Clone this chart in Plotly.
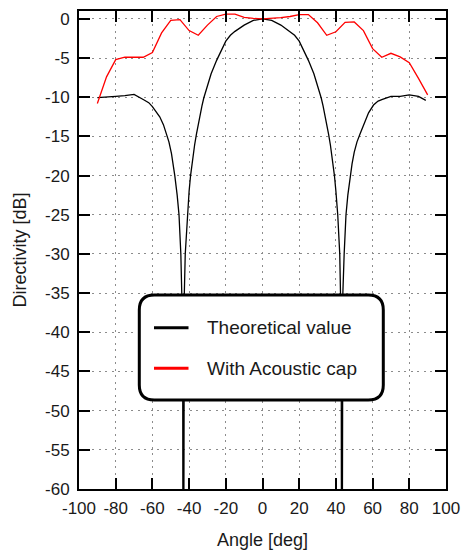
import plotly.graph_objects as go

# ---------------- data ----------------
red_angle = [-90, -85, -80, -75, -70, -65, -60, -55, -50, -45, -40, -35, -30, -25, -20, -15, -10, -5,
             0, 5, 10, 15, 20, 25, 30, 35, 40, 45, 50, 55, 60, 65, 70, 75, 80, 85, 90]
red_db = [-10.8, -7.4, -5.2, -4.9, -4.9, -4.9, -4.3, -1.8, -0.2, -0.1, -1.5, -2.1, -0.8, 0.3, 0.6, 0.6, 0.2, 0.05,
          0.0, 0.05, 0.15, 0.3, 0.55, 0.55, -0.5, -2.1, -1.65, -0.45, -0.4, -1.5, -3.8, -4.9, -4.4, -4.85, -5.6, -7.6, -9.7]

theo_angle = [-90, -85, -80, -75, -70, -65, -62, -60, -58, -56, -54, -52.3, -51, -49.6, -48.6, -47.8, -46.5,
              -45.5, -44.5, -43.8, -43.5,
              -43.2, -42.9, -42.6, -42.1, -41.0, -40.0, -39.2, -38.0, -37.0, -36.0, -35.0, -34.0, -33.0, -32.0,
              -30.0, -28.0, -25.0, -22.5, -20.0, -17.5, -15.0, -10.0, -5.0, 0.0, 5.0, 10.0, 15.0, 17.5, 20.0, 22.5,
              25.0, 28.0, 30.0, 32.0, 33.0, 34.0, 35.0, 36.0, 37.0, 38.0,
              39.2, 40.0, 41.0, 42.1, 42.6, 42.9, 43.2, 43.5, 43.8, 44.5, 45.5, 46.5, 47.8, 48.8, 50.0, 51.5,
              53.3, 55.5, 57.8, 60.5, 63, 65, 70, 75, 80, 85, 89]
theo_db = [-10.05, -10.0, -9.9, -9.8, -9.65, -10.3, -10.7, -11.2, -11.8, -12.5, -13.5, -14.6, -15.7, -17.2, -18.6, -20.0, -22.5,
           -25.0, -30.0, -35.0, -40.0,
           -100.0, -40.0, -35.0, -30.0, -25.0, -22.0, -20.0, -17.6, -16.1, -14.7, -13.4, -12.2, -11.1, -10.1,
           -8.4, -7.0, -5.3, -4.0, -2.85, -2.1, -1.6, -0.8, -0.2, 0.0, -0.2, -0.8, -1.6, -2.1, -2.85, -4.0,
           -5.3, -7.0, -8.4, -10.1, -11.1, -12.2, -13.4, -14.7, -16.1, -17.6,
           -20.0, -22.0, -25.0, -30.0, -35.0, -40.0, -100.0, -40.0, -35.0, -30.0, -25.0, -22.5, -20.0, -18.5, -17.0, -15.7,
           -14.6, -13.2, -12.0, -11.0, -10.5, -10.3, -9.9, -9.9, -9.7, -9.9, -10.4]

x_ticks = [-100, -80, -60, -40, -20, 0, 20, 40, 60, 80, 100]
y_ticks = [0, -5, -10, -15, -20, -25, -30, -35, -40, -45, -50, -55, -60]

series_names = ["Theoretical value", "With Acoustic cap"]
series_colors = ["#000000", "#ff0000"]

# ---------------- figure ----------------
FONT = "Liberation Sans, Arial, sans-serif"
W, H = 462, 551
ML, MR, MT, MB = 79, 16, 11, 62
PW, PH = W - ML - MR, H - MT - MB


def px_x(p):
    return (p - ML) / PW


def px_y(p):
    return (H - MB - p) / PH


fig = go.Figure()
fig.add_trace(go.Scatter(x=theo_angle, y=theo_db, mode="lines", name=series_names[0],
                         line=dict(color=series_colors[0], width=1.3), showlegend=False))
fig.add_trace(go.Scatter(x=red_angle, y=red_db, mode="lines", name=series_names[1],
                         line=dict(color=series_colors[1], width=1.3), showlegend=False))

axis_common = dict(
    automargin=False,
    ticks="inside", ticklen=11, tickwidth=2, tickcolor="#000",
    showline=True, linecolor="#000", linewidth=2, mirror="allticks",
    showgrid=True, gridcolor="#8c8c8c", gridwidth=1, griddash="2px,4.5px",
    zeroline=False, tickfont=dict(family=FONT, size=17, color="#1a1a1a"),
)

fig.update_xaxes(range=[-100, 100], tickvals=x_ticks, ticktext=[str(v) for v in x_ticks],
                 ticklabelstandoff=3,
                 title=dict(text="Angle [deg]", font=dict(family=FONT, size=18, color="#1a1a1a"), standoff=16),
                 **axis_common)
fig.update_yaxes(range=[-60, 1], tickvals=y_ticks, ticktext=[str(v) for v in y_ticks],
                 ticklabelstandoff=4,
                 title=dict(text="Directivity [dB]", font=dict(family=FONT, size=18, color="#1a1a1a"), standoff=14),
                 **axis_common)

# legend box (rounded rectangle)
hw, hh, r = 122, 52.5, 15
path = (f"M {-hw + r},{-hh} L {hw - r},{-hh} Q {hw},{-hh} {hw},{-hh + r} "
        f"L {hw},{hh - r} Q {hw},{hh} {hw - r},{hh} L {-hw + r},{hh} Q {-hw},{hh} {-hw},{hh - r} "
        f"L {-hw},{-hh + r} Q {-hw},{-hh} {-hw + r},{-hh} Z")
shapes = [dict(type="path", path=path, xref="paper", yref="paper", xsizemode="pixel", ysizemode="pixel",
               xanchor=px_x(261.3), yanchor=px_y(347.5), line=dict(color="#000", width=3),
               fillcolor="#ffffff", layer="above")]
annotations = []
leg_rows = [327.7, 368.3]
for name, color, yp in zip(series_names, series_colors, leg_rows):
    shapes.append(dict(type="line", xref="paper", yref="paper", x0=px_x(154), x1=px_x(188.5),
                       y0=px_y(yp), y1=px_y(yp), line=dict(color=color, width=3), layer="above"))
    annotations.append(dict(text=name, xref="paper", yref="paper", x=px_x(205), y=px_y(yp),
                            xanchor="left", yanchor="middle", showarrow=False,
                            font=dict(family=FONT, size=19, color="#1a1a1a")))

fig.update_layout(
    width=W, height=H, margin=dict(l=ML, r=MR, t=MT, b=MB, pad=0),
    paper_bgcolor="#ffffff", plot_bgcolor="#ffffff",
    showlegend=False, shapes=shapes, annotations=annotations,
)

fig.write_html("out.html")
